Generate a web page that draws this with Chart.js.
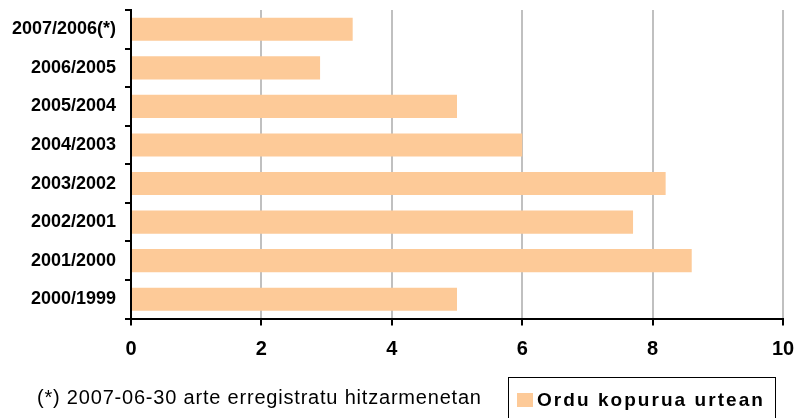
<!DOCTYPE html>
<html>
<head>
<meta charset="utf-8">
<script src="https://cdn.jsdelivr.net/npm/chart.js@4/dist/chart.umd.min.js"></script>
<style>
  html, body { margin: 0; padding: 0; background: #fff; }
  #wrap { position: relative; width: 796px; height: 418px; overflow: hidden; }
  #c { position: absolute; left: 0; top: 0; }
  #note { position: absolute; left: 37px; top: 387px; font: 20px "Liberation Sans", Arial, sans-serif; line-height: 20px; letter-spacing: 0.8px; color: #000; white-space: nowrap; }
  #legend { position: absolute; left: 508px; top: 377px; width: 268px; height: 60px; border: 1.5px solid #000; box-sizing: border-box; }
  #legend .sw { position: absolute; left: 8px; top: 15px; width: 16px; height: 14px; }
  #legend .lb { position: absolute; left: 28px; top: 12px; font: bold 19px "Liberation Sans", Arial, sans-serif; line-height: 19px; letter-spacing: 2.05px; white-space: nowrap; color: #000; }
</style>
</head>
<body>
<div id="wrap">
  <canvas id="c" width="796" height="418"></canvas>
  <div id="note"></div>
  <div id="legend"></div>
</div>
<script>
const categories = ["2007/2006(*)", "2006/2005", "2005/2004", "2004/2003", "2003/2002", "2002/2001", "2001/2000", "2000/1999"];
const hoursPerYear = [3.4, 2.9, 5.0, 6.0, 8.2, 7.7, 8.6, 5.0];
const seriesName = "Ordu kopurua urtean";
const xTicks = [0, 2, 4, 6, 8, 10];
const footnote = "(*) 2007-06-30 arte erregistratu hitzarmenetan";
const barColor = "#fdca98";

const chart = new Chart(document.getElementById("c"), {
  type: "bar",
  data: {
    labels: categories,
    datasets: [{
      label: seriesName,
      data: hoursPerYear,
      backgroundColor: barColor,
      borderWidth: 0,
      barPercentage: 0.6,
      categoryPercentage: 1.0
    }]
  },
  options: {
    indexAxis: "y",
    responsive: false,
    animation: false,
    devicePixelRatio: 1,
    layout: { padding: { left: 0, right: 13, top: 10, bottom: 0 } },
    plugins: { legend: { display: false }, tooltip: { enabled: false } },
    scales: {
      x: {
        min: 0, max: 10,
        afterBuildTicks: (s) => { s.ticks = xTicks.map(v => ({ value: v })); },
        grid: { color: "#c0c0c0", lineWidth: 2, tickColor: "#000", tickLength: 7, drawTicks: true },
        border: { display: true, color: "#000", width: 2 },
        ticks: { color: "#000", padding: 12, font: { family: "'Liberation Sans', Arial, sans-serif", size: 20, weight: "bold" } },
        afterFit: (s) => { s.height = 99.5; s.paddingLeft = 0; s.paddingRight = 0; }
      },
      y: {
        grid: { display: true, drawOnChartArea: false, offset: true, color: "#000", tickColor: "#000", tickLength: 6, lineWidth: 2 },
        border: { display: true, color: "#000", width: 2 },
        ticks: { color: "#000", padding: 9, font: { family: "'Liberation Sans', Arial, sans-serif", size: 18, weight: "bold" } },
        afterFit: (s) => { s.width = 131; s.paddingTop = 0; s.paddingBottom = 0; }
      }
    }
  }
});

document.getElementById("note").textContent = footnote;
const lg = document.getElementById("legend");
chart.data.datasets.forEach(ds => {
  const sw = document.createElement("div"); sw.className = "sw"; sw.style.background = ds.backgroundColor;
  const lb = document.createElement("div"); lb.className = "lb"; lb.textContent = ds.label;
  lg.appendChild(sw); lg.appendChild(lb);
});
</script>
</body>
</html>
